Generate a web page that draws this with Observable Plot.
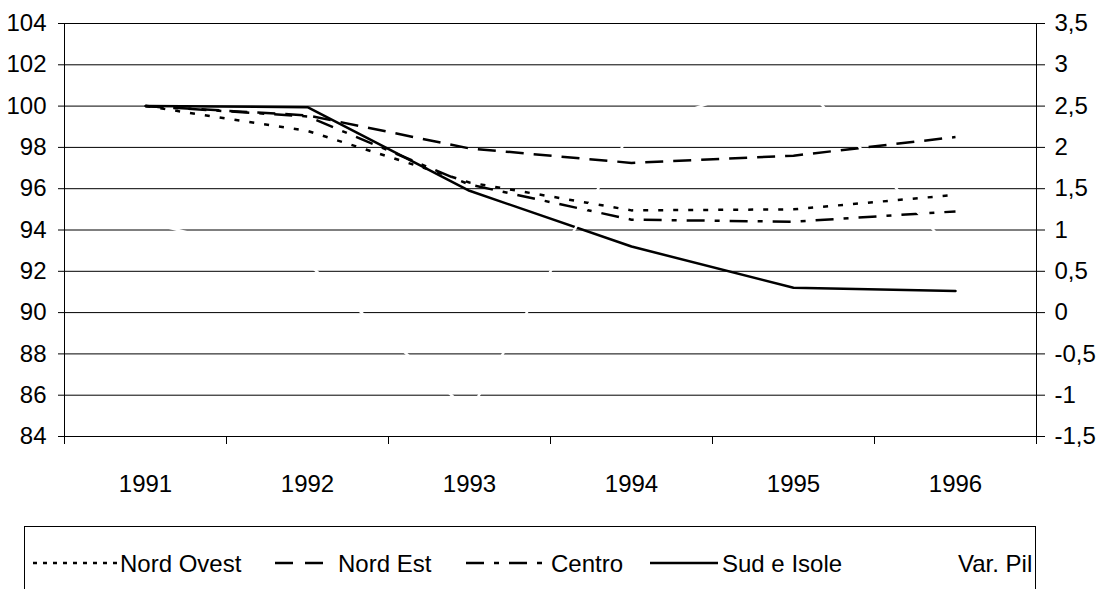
<!DOCTYPE html>
<html>
<head>
<meta charset="utf-8">
<script src="https://cdn.jsdelivr.net/npm/d3@7"></script>
<script src="https://cdn.jsdelivr.net/npm/@observablehq/plot@0.6"></script>
<style>
  html, body { margin: 0; padding: 0; background: #fff; }
  #chart svg { display: block; }
  #legend { display: block; }
</style>
</head>
<body>
<div id="chart"></div>
<script>
// ---- data ----
const years = [1991, 1992, 1993, 1994, 1995, 1996];
const nordOvest = [100, 98.8, 96.3, 94.95, 95.0, 95.7];
const nordEst   = [100, 99.55, 97.95, 97.25, 97.6, 98.5];
const centro    = [100, 99.5, 96.2, 94.5, 94.4, 94.9];
const sudIsole  = [100, 99.95, 95.9, 93.2, 91.2, 91.05];
const varPil    = [1.1, 0.6, -1.2, 2.2, 2.9, 0.7];
const leftTicks  = [84, 86, 88, 90, 92, 94, 96, 98, 100, 102, 104];
const rightTicks = [-1.5, -1, -0.5, 0, 0.5, 1, 1.5, 2, 2.5, 3, 3.5];
const seriesNames = ["Nord Ovest", "Nord Est", "Centro", "Sud e Isole", "Var. Pil"];

// right axis (Var. Pil) mapped onto the left scale: 3.5 -> 104, -1.5 -> 84
const toLeft = v => 84 + (v + 1.5) * 4;
const fromLeft = y => (y - 84) / 4 - 1.5;
const fmtIt = v => String(Math.round(v * 10) / 10).replace(".", ",");

const table = years.map((year, i) => ({
  year,
  nordOvest: nordOvest[i],
  nordEst: nordEst[i],
  centro: centro[i],
  sudIsole: sudIsole[i],
  varPil: toLeft(varPil[i])
}));
const bounds = [1990.5, 1991.5, 1992.5, 1993.5, 1994.5, 1995.5, 1996.5];

const FONT = "'Liberation Sans', Arial, sans-serif";
const FS = 24;

const plot = Plot.plot({
  width: 1103,
  height: 520,
  marginLeft: 64,
  marginRight: 67,
  marginTop: 23,
  marginBottom: 84,
  style: { fontFamily: FONT, fontSize: FS + "px", color: "#000", background: "#fff" },
  x: { domain: [1990.5, 1996.5] },
  y: { domain: [84, 104] },
  marks: [
    Plot.ruleY(leftTicks, { stroke: "#000", strokeWidth: 1 }),
    Plot.ruleX([1990.5, 1996.5], { stroke: "#000", strokeWidth: 1 }),
    Plot.axisY({ anchor: "left", ticks: leftTicks, tickSize: 6, tickPadding: 12, label: null, tickFormat: d => String(d), fontSize: FS }),
    Plot.axisY({ anchor: "right", ticks: rightTicks.map(toLeft), tickSize: 8, tickPadding: 10, label: null, tickFormat: d => fmtIt(fromLeft(d)), fontSize: FS }),
    Plot.axisX({ ticks: bounds, tickSize: 8, tickFormat: () => "", label: null }),
    Plot.axisX({ ticks: years, tickSize: 0, tickPadding: 38, tickFormat: d => String(d), label: null, fontSize: FS }),
    Plot.line(table, { x: "year", y: "nordOvest", stroke: "#000", strokeWidth: 2.5, strokeDasharray: "5,10", strokeLinecap: "butt" }),
    Plot.line(table, { x: "year", y: "nordEst", stroke: "#000", strokeWidth: 2.5, strokeDasharray: "18,10", strokeLinecap: "butt" }),
    Plot.line(table, { x: "year", y: "centro", stroke: "#000", strokeWidth: 2.5, strokeDasharray: "18,10,5,10", strokeLinecap: "butt" }),
    Plot.line(table, { x: "year", y: "sudIsole", stroke: "#000", strokeWidth: 2.5 }),
    Plot.line(table, { x: "year", y: "varPil", stroke: "#fff", strokeWidth: 2.5 })
  ]
});
document.getElementById("chart").appendChild(plot);

// ---- legend ----
const legendItems = [
  { name: seriesNames[0], dash: "4,6", color: "#000", x1: 33, x2: 118, tx: 120 },
  { name: seriesNames[1], dash: "18,12", color: "#000", x1: 275, x2: 335, tx: 338 },
  { name: seriesNames[2], dash: "18,10,5,10", color: "#000", x1: 466, x2: 548, tx: 551 },
  { name: seriesNames[3], dash: null, color: "#000", x1: 650, x2: 718, tx: 722 },
  { name: seriesNames[4], dash: null, color: "#fff", x1: 890, x2: 955, tx: 958 }
];
const lg = d3.select("body").append("svg")
  .attr("id", "legend")
  .attr("width", 1103).attr("height", 69)
  .style("font-family", FONT).style("font-size", FS + "px");
lg.append("rect").attr("x", 24.5).attr("y", 6.5).attr("width", 1011).attr("height", 120)
  .attr("fill", "#fff").attr("stroke", "#000").attr("stroke-width", 1);
const it = lg.selectAll("g.item").data(legendItems).join("g").attr("class", "item");
it.append("line")
  .attr("x1", d => d.x1).attr("x2", d => d.x2).attr("y1", 43).attr("y2", 43)
  .attr("stroke", d => d.color).attr("stroke-width", 2.5)
  .attr("stroke-dasharray", d => d.dash);
it.append("text")
  .attr("x", d => d.tx).attr("y", 52)
  .attr("fill", "#000")
  .text(d => d.name);
</script>
</body>
</html>
